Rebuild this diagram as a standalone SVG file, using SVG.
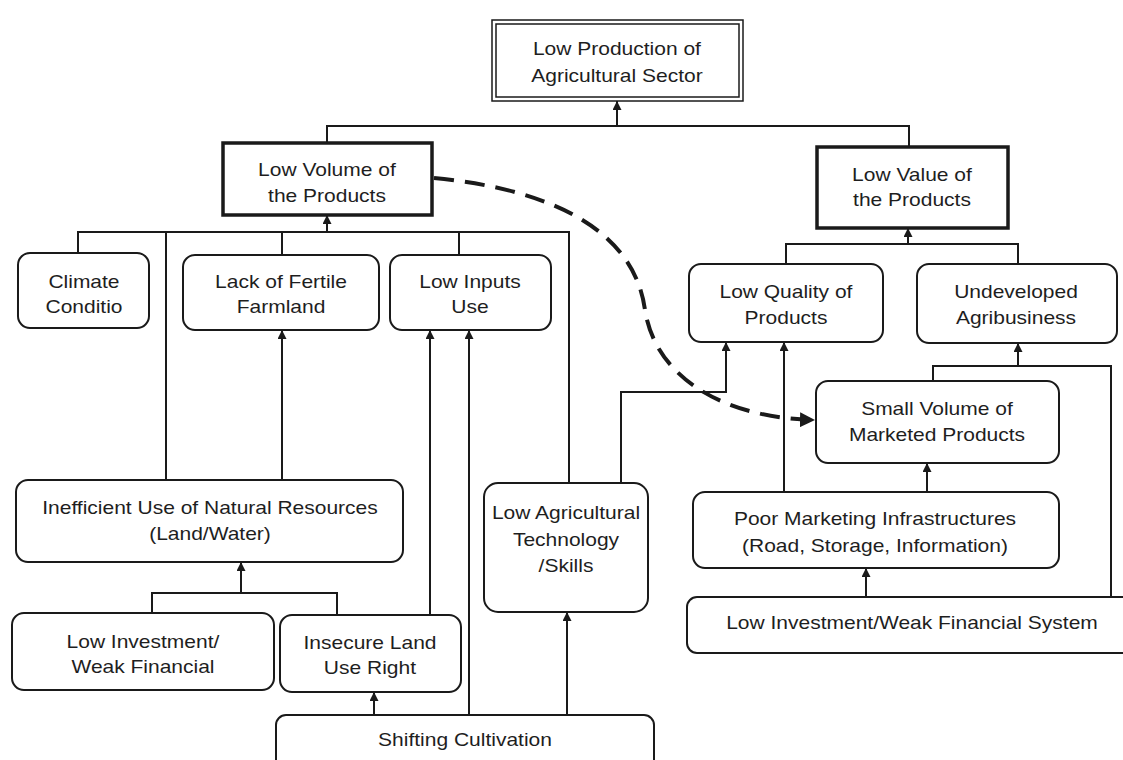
<svg xmlns="http://www.w3.org/2000/svg" width="1123" height="760" viewBox="0 0 1123 760">
  <defs>
    <marker id="ah" viewBox="0 0 10 10" refX="10" refY="5" markerWidth="10" markerHeight="9" markerUnits="userSpaceOnUse" orient="auto">
      <path d="M0,0 L10,5 L0,10 z" fill="#1a1a1a"/>
    </marker>
    <marker id="ahBig" viewBox="0 0 10 10" refX="10" refY="5" markerWidth="15" markerHeight="15" markerUnits="userSpaceOnUse" orient="auto">
      <path d="M0,0 L10,5 L0,10 z" fill="#1a1a1a"/>
    </marker>
  </defs>
  <style>
    .box { fill: #ffffff; stroke: #1a1a1a; stroke-width: 2; }
    .thick { fill: #ffffff; stroke: #1a1a1a; stroke-width: 3.5; }
    .dbl { fill: none; stroke: #1a1a1a; stroke-width: 1.5; }
    .ln { fill: none; stroke: #1a1a1a; stroke-width: 2; }
    .arr { fill: none; stroke: #1a1a1a; stroke-width: 2; marker-end: url(#ah); }
    .dash { fill: none; stroke: #1a1a1a; stroke-width: 4; stroke-dasharray: 20 11; marker-end: url(#ahBig); }
    text { font-family: "Liberation Sans", Arial, sans-serif; font-size: 17.5px; fill: #1e1e1e; text-anchor: middle;
           transform-box: fill-box; transform-origin: center; transform: scaleX(1.2); }
  </style>
  <rect width="1123" height="760" fill="#ffffff"/>

  <!-- connectors -->
  <g id="connectors">
    <!-- into the top node -->
    <path class="ln" d="M327,143 V126 H909 V147"/>
    <path class="arr" d="M617,126 V101"/>
    <!-- causes of low volume -->
    <path class="ln" d="M78,253 V232 H569 V483"/>
    <path class="ln" d="M166,232 V480"/>
    <path class="ln" d="M282,232 V255"/>
    <path class="ln" d="M459,232 V255"/>
    <path class="arr" d="M327,232 V215"/>
    <path class="arr" d="M282,480 V330"/>
    <path class="arr" d="M430,615 V330"/>
    <path class="arr" d="M469,715 V330"/>
    <!-- causes of inefficient use -->
    <path class="ln" d="M152,613 V593 H337 V615"/>
    <path class="arr" d="M241,593 V562"/>
    <path class="arr" d="M374,715 V692"/>
    <path class="arr" d="M567,715 V612"/>
    <!-- causes of low value -->
    <path class="ln" d="M786,264 V244 H1018 V264"/>
    <path class="arr" d="M908,244 V228"/>
    <path class="arr" d="M621,483 V392 H726 V342"/>
    <path class="arr" d="M784,492 V342"/>
    <path class="ln" d="M933,381 V366 H1111 V597"/>
    <path class="arr" d="M1018,366 V343"/>
    <path class="arr" d="M927,492 V463"/>
    <path class="arr" d="M866,597 V568"/>
    <!-- link between the two branches -->
    <path class="dash" d="M434,178 C560,190 635,235 645,310 C655,375 720,418 815,420"/>
  </g>

  <g id="n-low-production">
    <rect class="dbl" x="492" y="20" width="251" height="81"/>
    <rect class="dbl" x="496" y="24" width="243" height="73"/>
    <text x="617" y="55">Low Production of</text>
    <text x="617" y="82">Agricultural Sector</text>
  </g>

  <g id="n-low-volume">
    <rect class="thick" x="223" y="143" width="209" height="72"/>
    <text x="327" y="176">Low Volume of</text>
    <text x="327" y="202">the Products</text>
  </g>

  <g id="n-low-value">
    <rect class="thick" x="817" y="147" width="191" height="81"/>
    <text x="912" y="181">Low Value of</text>
    <text x="912" y="206">the Products</text>
  </g>

  <g id="n-climate">
    <rect class="box" x="18" y="253" width="131" height="75" rx="12"/>
    <text x="84" y="288">Climate</text>
    <text x="84" y="313">Conditio</text>
  </g>

  <g id="n-fertile">
    <rect class="box" x="183" y="255" width="196" height="75" rx="12"/>
    <text x="281" y="288">Lack of Fertile</text>
    <text x="281" y="313">Farmland</text>
  </g>

  <g id="n-inputs">
    <rect class="box" x="390" y="255" width="161" height="75" rx="12"/>
    <text x="470" y="288">Low Inputs</text>
    <text x="470" y="313">Use</text>
  </g>

  <g id="n-quality">
    <rect class="box" x="689" y="264" width="194" height="78" rx="12"/>
    <text x="786" y="298">Low Quality of</text>
    <text x="786" y="324">Products</text>
  </g>

  <g id="n-agribusiness">
    <rect class="box" x="917" y="264" width="200" height="79" rx="12"/>
    <text x="1016" y="298">Undeveloped</text>
    <text x="1016" y="324">Agribusiness</text>
  </g>

  <g id="n-small-volume">
    <rect class="box" x="816" y="381" width="243" height="82" rx="12"/>
    <text x="937" y="415">Small Volume of</text>
    <text x="937" y="441">Marketed Products</text>
  </g>

  <g id="n-natural-resources">
    <rect class="box" x="16" y="480" width="387" height="82" rx="12"/>
    <text x="210" y="514">Inefficient Use of Natural Resources</text>
    <text x="210" y="540">(Land/Water)</text>
  </g>

  <g id="n-technology">
    <rect class="box" x="484" y="483" width="164" height="129" rx="14"/>
    <text x="566" y="519">Low Agricultural</text>
    <text x="566" y="546">Technology</text>
    <text x="566" y="572">/Skills</text>
  </g>

  <g id="n-infrastructure">
    <rect class="box" x="693" y="492" width="366" height="76" rx="12"/>
    <text x="875" y="525">Poor Marketing Infrastructures</text>
    <text x="875" y="552">(Road, Storage, Information)</text>
  </g>

  <g id="n-investment-left">
    <rect class="box" x="12" y="613" width="262" height="77" rx="12"/>
    <text x="143" y="648">Low Investment/</text>
    <text x="143" y="673">Weak Financial</text>
  </g>

  <g id="n-land-right">
    <rect class="box" x="280" y="615" width="181" height="77" rx="12"/>
    <text x="370" y="649">Insecure Land</text>
    <text x="370" y="674">Use Right</text>
  </g>

  <g id="n-shifting">
    <rect class="box" x="276" y="715" width="378" height="70" rx="10"/>
    <text x="465" y="746">Shifting Cultivation</text>
  </g>

  <g id="n-investment-right">
    <rect class="box" x="687" y="597" width="450" height="56" rx="10"/>
    <text x="912" y="629">Low Investment/Weak Financial System</text>
  </g>
</svg>
